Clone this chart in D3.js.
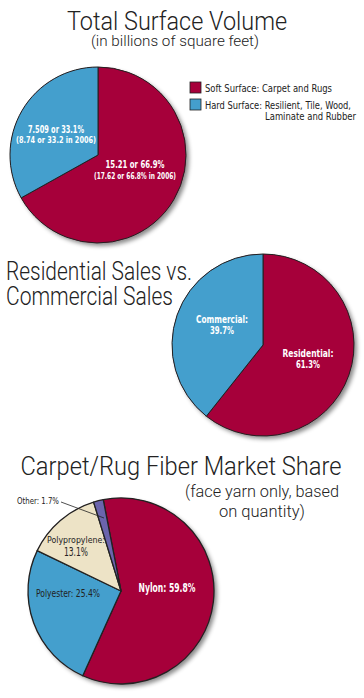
<!DOCTYPE html>
<html>
<head>
<meta charset="utf-8">
<script src="https://cdn.jsdelivr.net/npm/d3@7"></script>
<style>
  html, body { margin: 0; padding: 0; background: #fff; }
  svg { display: block; }
  text { font-family: "Liberation Sans Narrow", "DejaVu Sans Condensed", Roboto, sans-serif; }
  text.head { font-family: Roboto, "Open Sans", sans-serif; font-weight: 300; }
</style>
</head>
<body>
<div id="chart"></div>
<script>
// three pies, values
const surfaceCats = ['Soft Surface: Carpet and Rugs', 'Hard Surface: Resilient, Tile, Wood, Laminate and Rubber'];
const surfaceVals = [66.9, 33.1];

const salesCats = ['Residential', 'Commercial'];
const salesVals = [61.3, 39.7];

const fiberCats = ['Nylon', 'Polyester', 'Polypropylene', 'Other'];
const fiberVals = [59.8, 25.4, 13.1, 1.7];

const red = '#a6003a', blue = '#449fcd', beige = '#ede3c6', purple = '#6b64ad';

const W = 364, H = 698;
const svg = d3.select('#chart').append('svg').attr('width', W).attr('height', H);

const defs = svg.append('defs');
defs.append('filter').attr('id', 'shadow').attr('x', '-20%').attr('y', '-20%').attr('width', '150%').attr('height', '150%')
  .append('feDropShadow').attr('dx', 3).attr('dy', 3).attr('stdDeviation', 2)
  .attr('flood-color', '#000').attr('flood-opacity', 0.45);

function drawPie(cx, cy, r, vals, colors, startDeg, strokeW) {
  const start = startDeg * Math.PI / 180;
  const pie = d3.pie().sort(null).startAngle(start).endAngle(start + 2 * Math.PI);
  const arc = d3.arc().innerRadius(0).outerRadius(r);
  const g = svg.append('g').attr('transform', `translate(${cx},${cy})`);
  g.append('circle').attr('r', r).attr('fill', colors[0]).attr('filter', 'url(#shadow)');
  g.selectAll('path')
    .data(pie(vals))
    .join('path')
    .attr('d', arc)
    .attr('fill', (d, i) => colors[i])
    .attr('stroke', '#222')
    .attr('stroke-width', strokeW)
    .attr('stroke-linejoin', 'round');
  return g;
}

function txt(x, y, s, opt = {}) {
  const t = svg.append('text')
    .attr('x', x).attr('y', y)
    .attr('text-anchor', opt.anchor || 'middle')
    .attr('font-size', opt.size || 12)
    .attr('font-weight', opt.weight || null)
    .attr('fill', opt.fill || '#222')
    .text(s);
  if (opt.cls) t.attr('class', opt.cls);
  if (opt.len) t.attr('textLength', opt.len).attr('lengthAdjust', 'spacingAndGlyphs');
  return t;
}

// ---- Pie 1: Total Surface Volume
txt(177, 30, 'Total Surface Volume', { cls: 'head', size: 25, len: 220 });
txt(175, 46, '(in billions of square feet)', { cls: 'head', size: 15, len: 168 });

drawPie(98, 155, 88, surfaceVals, [red, blue], 0, 1);

// legend
const legend = svg.append('g').attr('transform', 'translate(190,82)');
[red, blue].forEach((c, i) => {
  legend.append('rect').attr('x', 0).attr('y', i * 17).attr('width', 11).attr('height', 11)
    .attr('fill', c).attr('stroke', '#222').attr('stroke-width', 0.8);
});
txt(205, 92, 'Soft Surface: Carpet and Rugs', { anchor: 'start', size: 10.5, len: 127 });
txt(205, 109, 'Hard Surface: Resilient, Tile, Wood,', { anchor: 'start', size: 10.5, len: 146 });
txt(356, 120, 'Laminate and Rubber', { anchor: 'end', size: 10.5, len: 91 });

txt(56, 133, '7.509 or 33.1%', { size: 10.5, weight: 'bold', fill: '#fff', len: 56 });
txt(56, 143, '(8.74 or 33.2 in 2006)', { size: 8.5, weight: 'bold', fill: '#fff', len: 80 });
txt(135, 168, '15.21 or 66.9%', { size: 10.5, weight: 'bold', fill: '#fff', len: 59 });
txt(135, 179, '(17.62 or 66.8% in 2006)', { size: 8.5, weight: 'bold', fill: '#fff', len: 82 });

// ---- Pie 2: Residential vs Commercial
txt(6, 280, 'Residential Sales vs.', { cls: 'head', anchor: 'start', size: 26, len: 186 });
txt(6, 305, 'Commercial Sales', { cls: 'head', anchor: 'start', size: 26, len: 167 });

drawPie(263, 345, 91, salesVals, [red, blue], 0, 1);

txt(222, 323, 'Commercial:', { size: 10.5, weight: 'bold', fill: '#fff', len: 52 });
txt(222, 334, '39.7%', { size: 10.5, weight: 'bold', fill: '#fff', len: 24 });
txt(308, 357, 'Residential:', { size: 10.5, weight: 'bold', fill: '#fff', len: 51 });
txt(308, 368, '61.3%', { size: 10.5, weight: 'bold', fill: '#fff', len: 24 });

// ---- Pie 3: fiber market share
txt(181, 475, 'Carpet/Rug Fiber Market Share', { cls: 'head', size: 26, len: 321 });
txt(262, 497, '(face yarn only, based', { cls: 'head', size: 16, len: 154 });
txt(262, 517, 'on quantity)', { cls: 'head', size: 16, len: 86 });

drawPie(121, 591, 93, fiberVals, [red, blue, beige, purple], -11, 1.3);

// leader for "Other"
svg.append('line').attr('x1', 61).attr('y1', 502).attr('x2', 104).attr('y2', 518)
  .attr('stroke', '#222').attr('stroke-width', 0.8);
txt(17, 504, 'Other: 1.7%', { anchor: 'start', size: 9, len: 42 });
txt(76, 543, 'Polypropylene:', { size: 9, len: 58 });
txt(76, 556, '13.1%', { size: 12, len: 24 });
txt(36, 597, 'Polyester: 25.4%', { anchor: 'start', size: 10.5, len: 64 });
txt(167, 592, 'Nylon: 59.8%', { size: 11.5, weight: 'bold', fill: '#fff', len: 57 });
</script>
</body>
</html>
